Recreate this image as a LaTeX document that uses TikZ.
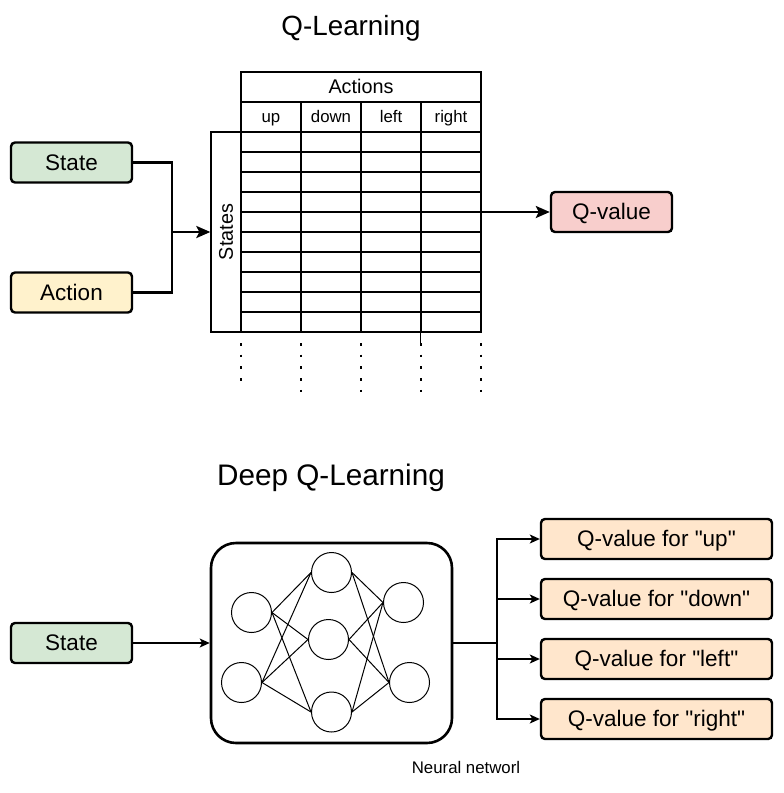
\documentclass[tikz,border=0pt]{standalone}
\usepackage{fontspec}
\setmainfont{Liberation Sans}
\usetikzlibrary{arrows.meta}
\definecolor{sgreen}{HTML}{D5E8D4}
\definecolor{syellow}{HTML}{FFF2CC}
\definecolor{sred}{HTML}{F8CECC}
\definecolor{sorange}{HTML}{FFE6CC}
\newcommand{\qq}{\textquotedbl}
\begin{document}
\begin{tikzpicture}[x=1pt,y=-1pt,
  box/.style={draw, line width=2.4pt, rounded corners=4pt, minimum width=121pt, minimum height=40pt, inner sep=0pt, font=\fontsize{22.5}{26}\selectfont, text height=20.4pt, text depth=4.8pt},
  qbox/.style={box, minimum width=231pt, fill=sorange},
  cell/.style={draw, line width=1.3pt, minimum width=60pt, minimum height=20pt, inner sep=0pt},
  hcell/.style={cell, minimum height=30pt, font=\fontsize{16.8}{19}\selectfont, text height=15.2pt, text depth=3.6pt},
  neuron/.style={draw, circle, line width=1pt, minimum size=40pt, inner sep=0pt},
  bigarrow/.style={line width=2.6pt, -{Stealth[length=14pt,width=12pt,inset=3pt]}},
  smallarrow/.style={line width=1.4pt, -{Stealth[length=10pt,width=9pt,inset=2.5pt]}},
  dotline/.style={line width=2.6pt, dash pattern=on 2.6pt off 9.1pt},
  synapse/.style={line width=1pt}
]
\useasboundingbox (0,0) rectangle (784,793);

% ---------- Q-Learning ----------
\node[font=\fontsize{27.8}{31}\selectfont] (t1) at (351,28) {Q-Learning};

\node[box, fill=sgreen] (s1) at (71.5,162.5) {State};
\node[box, fill=syellow] (a1) at (71.5,292.5) {Action};

\node[hcell, minimum width=240pt, font=\fontsize{19.8}{22}\selectfont, text height=17.9pt, text depth=4.2pt] (acts) at (361,87) {Actions};
\node[hcell] (hup) at (271,117) {up};
\node[hcell] (hdown) at (331,117) {down};
\node[hcell] (hleft) at (391,117) {left};
\node[hcell] (hright) at (451,117) {right};

\foreach \i in {0,...,9}{
  \foreach \j in {0,...,3}{
    \node[cell] (c-\i-\j) at (271+60*\j, 142+20*\i) {};
  }
}
\node[cell, minimum width=30pt, minimum height=200pt] (states) at (226,232) {};
\node[rotate=90, font=\fontsize{19.8}{22}\selectfont, text height=17.9pt, text depth=4.2pt, inner sep=0pt] (stlabel) at (states.center) {States};

\coordinate (j1) at (172,232);
\draw[line width=2.6pt] (s1.east) -| (j1);
\draw[line width=2.6pt] (a1.east) -| (j1);
\draw[bigarrow] (j1) -- (states.west);

\node[box, fill=sred] (qv) at (611.5,212) {Q-value};
\draw[bigarrow] (c-4-3.north east |- qv.west) -- (qv.west);

% dotted continuation
\coordinate (d0) at (241,343);
\coordinate (d0e) at (241,384);
\draw[dotline] (d0) -- (d0e);
\foreach \x in {301,361,421,481}{
  \draw[dotline] (\x,343) -- (\x,394);
}
\draw[line width=1.3pt] (c-9-3.south west) -- ++(0,11);

% ---------- Deep Q-Learning ----------
\node[font=\fontsize{29.7}{33}\selectfont] (t2) at (331,478) {Deep Q-Learning};

\node[box, fill=sgreen] (s2) at (71.5,643) {State};
\node[draw, line width=2.6pt, rounded corners=25pt, minimum width=241pt, minimum height=200pt] (nn) at (331.5,643) {};
\draw[smallarrow] (s2.east) -- (nn.west);

\node[neuron] (i1) at (251.5,612.5) {};
\node[neuron] (i2) at (241.5,682.5) {};
\node[neuron] (h1) at (331.5,572.5) {};
\node[neuron] (h2) at (328.5,639.5) {};
\node[neuron] (h3) at (331.5,712) {};
\node[neuron] (o1) at (403.5,602.5) {};
\node[neuron] (o2) at (409.5,682.5) {};
\foreach \a in {i1,i2}{
  \foreach \b in {h1,h2,h3}{
    \draw[synapse] (\a.east) -- (\b.west);
  }
}
\foreach \a in {h1,h2,h3}{
  \foreach \b in {o1,o2}{
    \draw[synapse] (\a.east) -- (\b.west);
  }
}

\node[qbox] (q1) at (656.5,539) {Q-value for \qq up\qq};
\node[qbox] (q2) at (656.5,599) {Q-value for \qq down\qq};
\node[qbox] (q3) at (656.5,659) {Q-value for \qq left\qq};
\node[qbox] (q4) at (656.5,719) {Q-value for \qq right\qq};

\coordinate (j2) at (497,643);
\draw[line width=2.4pt] (nn.east) -- (j2);
\foreach \q in {q1,q2,q3,q4}{
  \draw[smallarrow] (j2) |- (\q.west);
}

\node[font=\fontsize{16.8}{19}\selectfont] (nnlabel) at (466,767) {Neural networl};
\end{tikzpicture}
\end{document}
